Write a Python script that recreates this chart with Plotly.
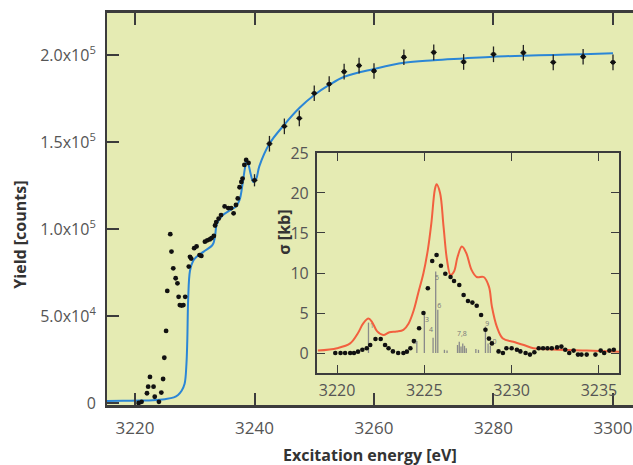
import plotly.graph_objects as go

# ---------------- main panel data ----------------
# dense measured points (no visible error bars)
dense_x = [3220.6, 3221.1, 3222.0, 3222.2, 3222.5, 3223.1, 3223.3, 3224.0, 3224.4, 3224.7,
           3224.9, 3225.2, 3225.4, 3225.9, 3226.1, 3226.4, 3226.8, 3227.1, 3227.3, 3227.5,
           3227.8, 3228.1, 3228.4, 3229.0, 3229.2, 3229.4, 3229.9, 3230.3, 3230.8, 3231.1,
           3231.7, 3232.1, 3232.5, 3232.8, 3233.2, 3233.4, 3233.6, 3234.0, 3234.4, 3235.0,
           3235.6, 3236.1, 3236.5, 3236.9, 3237.2, 3237.5, 3237.8, 3238.0, 3238.3, 3238.6, 3239.0]
dense_y = [0.0, 700, 5600, 9400, 15000, 9400, 3600, 700, 6000, 13800,
           26000, 41400, 64400, 97000, 87000, 77400, 71700, 68800, 61000, 56300,
           56000, 56300, 61000, 78400, 84000, 83000, 89000, 90000, 85000, 84500,
           92700, 93500, 94000, 94700, 96000, 102000, 104000, 106000, 108000, 113000,
           112000, 112000, 109000, 113800, 117600, 124000, 127000, 129000, 136800, 139700, 138000]

# sparse points with error bars
err_x = [3240.0, 3242.5, 3245.0, 3247.5, 3250.0, 3252.5, 3255.0, 3257.5, 3260.0,
         3265.0, 3270.0, 3275.0, 3280.0, 3285.0, 3290.0, 3295.0, 3300.0]
err_y = [128000, 149000, 159000, 163600, 178000, 183300, 190400, 193900, 190800,
         198700, 201500, 196000, 200400, 201300, 195800, 199000, 195800]
err_e = [3500, 4500, 4500, 4500, 4500, 4500, 4500, 4500, 4500,
         4500, 4500, 4500, 4500, 4500, 4500, 4500, 4500]
err_xe = [0.5] * len(err_x)

# fitted/calculated curve
fit_x = [3215.3, 3218.0, 3221.0, 3223.0, 3225.0, 3226.5, 3227.2, 3227.8, 3228.3, 3228.6,
         3228.75, 3228.9, 3229.2, 3229.7, 3230.3, 3231.5, 3233.0, 3233.4, 3233.7, 3234.7,
         3236.0, 3236.9, 3237.5, 3238.0, 3238.4, 3238.7, 3239.0, 3239.4, 3239.8, 3240.3,
         3240.8, 3242.5, 3245.0, 3247.5, 3250.0, 3252.5, 3255.0, 3260.0, 3265.0, 3270.0,
         3275.0, 3280.0, 3285.0, 3290.0, 3295.0, 3300.0]
fit_y = [1200, 1300, 1400, 1600, 2200, 3200, 4600, 7000, 11000, 22000,
         36000, 60000, 76000, 81500, 84000, 87000, 91000, 96000, 103000, 108000,
         111000, 113000, 116700, 126000, 135000, 139700, 137000, 131000, 127000, 129000,
         136000, 149000, 160000, 169500, 177000, 182800, 187500, 192000, 195600, 197000,
         198000, 199000, 199600, 200000, 200500, 201000]

main_xticks = [3220, 3240, 3260, 3280, 3300]
main_yticks = [0, 50000, 100000, 150000, 200000]
main_yticktext = ["0", "5.0x10<sup>4</sup>", "1.0x10<sup>5</sup>", "1.5x10<sup>5</sup>", "2.0x10<sup>5</sup>"]

# ---------------- inset data ----------------
calc_x = [3218.9, 3220.0, 3220.75, 3221.2, 3221.5, 3221.8, 3222.0, 3222.3, 3222.65, 3223.0,
          3223.4, 3223.8, 3224.1, 3224.4, 3224.65, 3224.95, 3225.2, 3225.4, 3225.6, 3225.7,
          3225.9, 3226.1, 3226.3, 3226.5, 3226.7, 3226.9, 3227.15, 3227.4, 3227.7, 3228.0,
          3228.4, 3228.7, 3228.87, 3229.15, 3229.5, 3230.1, 3230.7, 3231.25, 3232.4, 3234.3, 3236.2]
calc_y = [0.3, 0.6, 1.2, 2.5, 3.7, 4.3, 3.9, 2.7, 2.25, 2.6,
          2.7, 2.9, 3.7, 5.4, 7.5, 10.0, 12.9, 16.2, 20.4, 21.1,
          20.0, 15.8, 11.6, 9.75, 10.2, 12.0, 13.3, 12.5, 10.4, 9.5,
          9.5, 8.3, 5.8, 3.3, 1.8, 1.4, 1.0, 0.6, 0.45, 0.3, 0.15]

meas_x = [3219.9, 3220.2, 3220.46, 3220.75, 3220.97, 3221.2, 3221.45, 3221.7, 3221.9, 3222.2,
          3222.5, 3222.75, 3222.95, 3223.2, 3223.5, 3223.8, 3224.0, 3224.2, 3224.4, 3224.7,
          3224.95, 3225.2, 3225.45, 3225.7, 3225.95, 3226.2, 3226.5, 3226.7, 3227.0, 3227.25,
          3227.5, 3227.75, 3228.0, 3228.25, 3228.5, 3228.7, 3228.87, 3229.25, 3229.5, 3229.7,
          3230.0, 3230.3, 3230.5, 3230.8, 3231.05, 3231.3, 3231.55, 3231.8, 3232.05, 3232.3,
          3232.6, 3232.85, 3233.07, 3233.3, 3233.55, 3233.8, 3234.0, 3234.3, 3234.8, 3235.1,
          3235.3, 3235.6, 3235.85]
meas_y = [0.0, 0.0, 0.0, 0.0, 0.0, 0.17, 0.4, 0.6, 1.0, 1.75,
          1.75, 1.0, 0.6, 0.2, 0.0, 0.0, 0.17, 0.6, 1.5, 3.1,
          5.0, 8.1, 11.5, 12.25, 10.9, 9.9, 9.5, 9.0, 8.5, 7.25,
          6.5, 6.3, 5.9, 4.75, 2.9, 1.8, 1.2, 0.2, 0.0, 0.6,
          0.6, 0.4, 0.2, 0.0, -0.2, 0.1, 0.6, 0.6, 0.6, 0.6,
          0.7, 0.8, 0.4, 0.0, 0.3, -0.2, -0.2, -0.2, -0.2, 0.3,
          0.0, 0.3, 0.4]

stick_x = [3221.8, 3224.57, 3225.0, 3225.5, 3225.65, 3225.77, 3226.15, 3226.3,
           3226.9, 3227.0, 3227.1, 3227.2, 3227.3, 3227.4, 3227.95, 3228.1, 3228.5, 3228.65, 3228.78]
stick_h = [3.8, 1.5, 4.9, 1.9, 10.2, 5.4, 0.4, 0.3,
           1.0, 1.4, 0.8, 1.2, 0.9, 0.6, 0.5, 0.4, 3.3, 1.2, 0.9]
stick_lab_x = [3222.0, 3224.45, 3225.15, 3225.38, 3225.72, 3225.85, 3227.15, 3228.6, 3228.9]
stick_lab_y = [3.4, 1.3, 4.1, 2.8, 9.3, 5.8, 2.3, 3.6, 1.3]
stick_lab = ["1", "2", "3", "4", "5", "6", "7,8", "9", "10"]

inset_xticks = [3220, 3225, 3230, 3235]
inset_yticks = [0, 5, 10, 15, 20, 25]

# ---------------- figure ----------------
BG = "#E5EBB3"
AX = "#3C3C3C"
TXT = "#555555"
FONT = "Open Sans"

fig = go.Figure()

fig.add_trace(go.Scatter(x=fit_x, y=fit_y, mode="lines", line=dict(color="#2B86D6", width=2),
                         line_shape="spline", xaxis="x", yaxis="y", showlegend=False, hoverinfo="skip"))
fig.add_trace(go.Scatter(x=dense_x, y=dense_y, mode="markers",
                         marker=dict(color="#111111", size=4.8), xaxis="x", yaxis="y", showlegend=False))
fig.add_trace(go.Scatter(x=err_x, y=err_y, mode="markers",
                         error_y=dict(type="data", array=err_e, color="#222222", thickness=1.3, width=0),
                         error_x=dict(type="data", array=err_xe, color="#222222", thickness=1.3, width=0),
                         marker=dict(color="#111111", size=4.8), xaxis="x", yaxis="y", showlegend=False))

# inset sticks
sx, sy = [], []
for xv, hv in zip(stick_x, stick_h):
    sx += [xv, xv, None]
    sy += [0, hv, None]
fig.add_trace(go.Scatter(x=sx, y=sy, mode="lines", line=dict(color="#8A8A8A", width=1.3),
                         xaxis="x2", yaxis="y2", showlegend=False, hoverinfo="skip"))
fig.add_trace(go.Scatter(x=stick_lab_x, y=stick_lab_y, mode="text", text=stick_lab,
                         textfont=dict(size=7, color="#777777", family=FONT),
                         xaxis="x2", yaxis="y2", showlegend=False, hoverinfo="skip"))
fig.add_trace(go.Scatter(x=calc_x, y=calc_y, mode="lines", line=dict(color="#F2603F", width=2),
                         line_shape="spline", xaxis="x2", yaxis="y2", showlegend=False, hoverinfo="skip"))
fig.add_trace(go.Scatter(x=meas_x, y=meas_y, mode="markers",
                         marker=dict(color="#111111", size=4.6), xaxis="x2", yaxis="y2", showlegend=False))

fig.update_layout(
    width=633, height=465,
    margin=dict(l=107, r=0, t=13, b=60),
    paper_bgcolor="white", plot_bgcolor=BG,
    font=dict(family=FONT, color=TXT),
    xaxis=dict(range=[3215.31, 3303.35], tickvals=main_xticks, ticks="inside", ticklen=12,
               tickwidth=1.5, tickcolor=AX, showline=True, linecolor=AX, linewidth=2.5,
               mirror="ticks", showgrid=False, zeroline=False,
               tickfont=dict(size=17, color=TXT), ticklabelstandoff=6),
    yaxis=dict(range=[-1149, 224138], tickvals=main_yticks, ticktext=main_yticktext,
               ticks="inside", ticklen=12, tickwidth=1.5, tickcolor=AX, showline=True,
               linecolor=AX, linewidth=2, mirror=False, showgrid=False, zeroline=False,
               tickfont=dict(size=16, color=TXT), ticklabelstandoff=6),
    xaxis2=dict(domain=[0.3992, 0.9734], anchor="y2", range=[3218.85, 3236.15],
                tickvals=inset_xticks, ticks="inside", ticklen=8, tickwidth=1.2, tickcolor=AX,
                showline=True, linecolor=AX, linewidth=2, mirror="ticks", showgrid=False,
                zeroline=False, tickfont=dict(size=16, color=TXT), ticklabelstandoff=2),
    yaxis2=dict(domain=[0.0816, 0.6429], anchor="x2", range=[-2.5, 25],
                tickvals=inset_yticks, ticks="inside", ticklen=8, tickwidth=1.2, tickcolor=AX,
                showline=True, linecolor=AX, linewidth=2, mirror="ticks", showgrid=False,
                zeroline=False, tickfont=dict(size=16, color=TXT), ticklabelstandoff=3),
    shapes=[dict(type="rect", xref="x2 domain", yref="y2 domain", x0=0, x1=1, y0=0, y1=1,
                 fillcolor="white", line=dict(width=0), layer="below")],
    annotations=[
        dict(text="<b>Excitation energy [eV]</b>", xref="paper", yref="paper", x=0.50, y=-0.128,
             xanchor="center", yanchor="middle", showarrow=False, font=dict(size=16, color="#333333")),
        dict(text="<b>Yield [counts]</b>", xref="paper", yref="paper", x=-0.165, y=0.435,
             xanchor="center", yanchor="middle", textangle=-90, showarrow=False,
             font=dict(size=16, color="#333333")),
        dict(text="<b>σ [kb]</b>", xref="paper", yref="paper", x=0.335, y=0.44,
             xanchor="center", yanchor="middle", textangle=-90, showarrow=False,
             font=dict(size=16, color="#333333")),
    ],
)

fig.write_html("out.html")
